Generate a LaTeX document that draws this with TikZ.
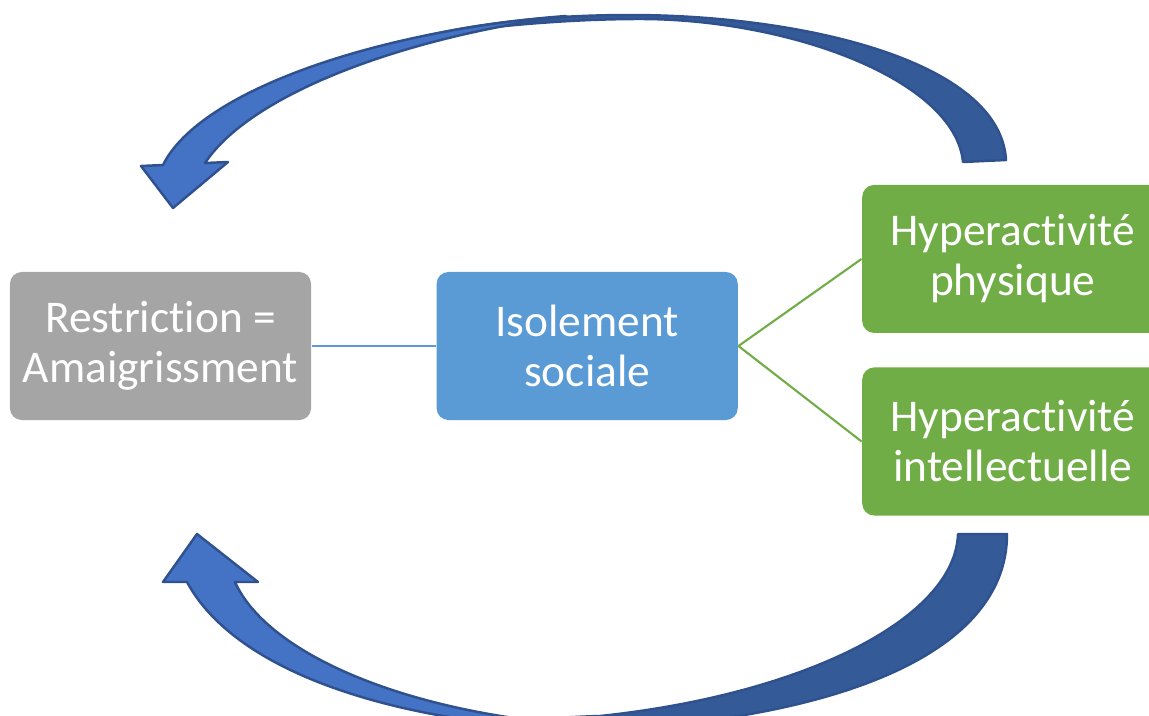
\documentclass[tikz,border=0pt]{standalone}
\usepackage{fontspec}
\setmainfont[Ligatures=NoCommon]{Carlito}
\usetikzlibrary{positioning}

\definecolor{greybox}{HTML}{A5A5A5}
\definecolor{bluebox}{HTML}{5B9BD5}
\definecolor{greenbox}{HTML}{70AD47}
\definecolor{arrowfront}{HTML}{4472C4}
\definecolor{arrowback}{HTML}{355A98}
\definecolor{arrowedge}{HTML}{2F528F}

\begin{document}
\begin{tikzpicture}[
    x=0.01cm, y=-0.01cm,
    box/.style={rectangle, rounded corners=0.12cm, minimum width=3.01cm, minimum height=1.48cm, inner sep=0pt, align=center, text=white, font=\fontsize{12.9pt}{14.2pt}\selectfont},
    front/.style={fill=arrowfront, draw=arrowedge, line width=0.7pt, line join=round},
    back/.style={fill=arrowback, draw=arrowedge, line width=0.7pt, line join=round},
    link/.style={line width=0.6pt}
]
\useasboundingbox (0,0) rectangle (1149,715);

% Boxes
\node[box, fill=greybox] (restr) at (160.5,346) {Restriction =\\Amaigrissment};
\node[box, fill=bluebox, right=1.24cm of restr] (isol) {Isolement\\sociale};
\node[box, fill=greenbox, right=1.23cm of isol, yshift=0.87cm] (phys) {Hyperactivité\\physique};
\node[box, fill=greenbox, below=0.33cm of phys] (intel) {Hyperactivité\\intellectuelle};

% Connections
\draw[link, bluebox] (restr) -- (isol);
\draw[link, greenbox] (isol.east) -- (phys.west);
\draw[link, greenbox] (isol.east) -- (intel.west);

% Upper loop arrow
\draw[back] (1006,160) .. controls (1000,60) and (800,15) .. (630,15)
    .. controls (540,15) and (470,25) .. (417,38)
    .. controls (470,28) and (560,19) .. (640,19)
    .. controls (790,19) and (955,80) .. (963,162) -- cycle;
\draw[front] (163,165) .. controls (200,90) and (380,30) .. (566,16)
    .. controls (400,38) and (250,95) .. (205,163)
    -- (228,162) -- (173,208) -- (141,166) -- cycle;

% Lower loop arrow
\draw[back] (1007,534) .. controls (1007,660) and (820,720) .. (600,730)
    .. controls (530,733) and (480,730) .. (450,726)
    .. controls (500,722) and (560,717) .. (600,716)
    .. controls (800,695) and (955,620) .. (958,534) -- cycle;
\draw[front] (187,582) .. controls (240,680) and (420,730) .. (620,731)
    -- (620,727) .. controls (430,722) and (270,660) .. (235,582)
    -- (258,582) -- (197,534) -- (163,582) -- cycle;

\end{tikzpicture}
\end{document}
